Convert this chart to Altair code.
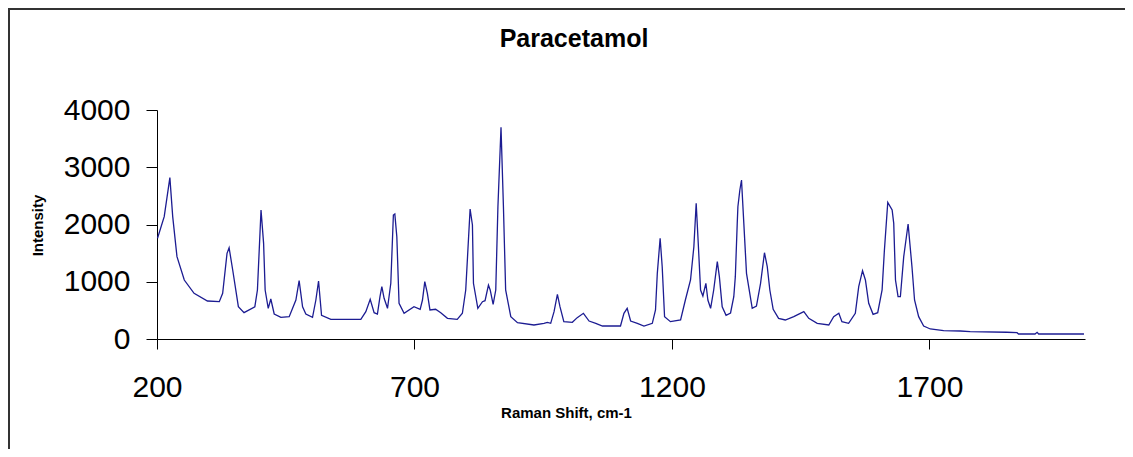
import altair as alt
import pandas as pd

TITLE = "Paracetamol"
X_TITLE = "Raman Shift, cm-1"
Y_TITLE = "Intensity"
X_TICKS = [200, 700, 1200, 1700]
Y_TICKS = [0, 1000, 2000, 3000, 4000]

shift = [201, 214, 225, 230.5, 238.8, 253, 272, 298, 321, 327.5, 336, 340, 347, 358, 369,
         390, 395, 402, 407, 410, 416, 421, 427.6, 440.6, 456.7, 469.7, 476, 482.7, 489, 502,
         508.5, 513.7, 519.5, 537.6, 595.8, 605.5, 614, 621.6, 628, 633, 636.6, 641, 647.6,
         654, 659, 661.8, 665.7, 670, 679.8, 699, 711, 715.5, 720, 725, 730, 741, 751, 764,
         783, 793, 799.5, 803, 808, 812.5, 814.5, 823, 832, 837, 843.6, 847, 852.7, 857.8,
         862, 868, 872.7, 877, 887, 900, 932, 951.5, 958, 964.5, 971, 977.5, 982.5, 990,
         1006.5, 1016, 1028, 1039, 1052, 1065, 1100, 1106.7, 1113, 1119.7, 1132.7, 1145.6,
         1161.8, 1168, 1171.5, 1177, 1181, 1185.6, 1197, 1216.7, 1226, 1236, 1242.5, 1247,
         1251, 1255.5, 1260, 1265.8, 1269.7, 1275, 1281, 1288, 1292, 1297.5, 1305, 1313.7,
         1320, 1323, 1326.7, 1328, 1331.8, 1335, 1339.5, 1344.7, 1355.8, 1364, 1372, 1379.6,
         1385, 1390, 1396.5, 1407, 1420, 1436.5, 1456, 1465.6, 1482, 1504.5, 1514, 1524,
         1530, 1543, 1556, 1562.6, 1570, 1575.6, 1582, 1590.5, 1599.5, 1608, 1612.5, 1619,
         1627.5, 1630.6, 1634, 1639, 1643.5, 1650, 1658.5, 1666, 1671, 1679, 1688.7, 1701.6,
         1727.5, 1760, 1779, 1850, 1870, 1873, 1905, 1909, 1912, 2000]

intensity = [1759, 2137, 2818, 2137, 1438, 1030, 798, 664, 652, 798, 1497, 1595, 1205, 564, 460,
             564, 856, 2253, 1671, 856, 536, 699, 437, 379, 390, 681, 1019, 564, 437, 379,
             681, 1013, 414, 344, 344, 477, 693, 460, 437, 739, 914, 711, 536,
             973, 2166, 2183, 1787, 623, 449, 564, 519, 681, 1001, 798, 507, 519, 460, 361,
             344, 449, 856, 1438, 2271, 1991, 973, 536, 652, 669, 943, 856, 606, 856,
             2311, 3698, 2311, 856, 390, 285, 245, 274, 291, 274, 477, 780, 564, 303,
             291, 373, 449, 314, 274, 227, 227, 449, 536, 314, 274, 227,
             274, 507, 1147, 1759, 1263, 390, 303, 332, 681, 1031, 1612, 2370,
             1671, 856, 751, 973, 681, 536, 856, 1351, 1089, 564, 414, 455,
             739, 1089, 2020, 2311, 2603, 2777, 2020, 1147, 536, 576, 973, 1507,
             1263, 856, 519, 361, 332, 390, 477, 361, 274, 245, 390, 449,
             303, 274, 449, 914, 1193, 1031, 623, 431, 460, 856, 1555, 2387,
             2253, 2020, 1031, 739, 739, 1438, 2009, 1263, 681, 390, 227, 175,
             146, 140, 128, 118, 111, 87, 87, 116, 87, 87]

df = pd.DataFrame({"shift": shift, "intensity": intensity})

FONT = "Liberation Sans"
W, H = 928, 229
PAD_L, PAD_T, PAD_R, PAD_B = 149, 102, 40, 110

line = alt.Chart(df).mark_line(color="#1c1c92", strokeWidth=1.3).encode(
    x=alt.X("shift:Q",
            scale=alt.Scale(domain=[200, 2002], nice=False, zero=False),
            axis=alt.Axis(values=X_TICKS, format="d", title=X_TITLE, grid=False,
                          tickSize=10, tickColor="black", domainColor="black",
                          labelFontSize=30, labelFont=FONT, labelColor="black",
                          labelPadding=23, labelFlush=False,
                          titleFont=FONT, titleFontSize=15, titleFontWeight="bold",
                          titleColor="black", titleX=409, titleY=73,
                          titleBaseline="middle", titleAnchor="middle")),
    y=alt.Y("intensity:Q",
            scale=alt.Scale(domain=[0, 4000], nice=False),
            axis=alt.Axis(values=Y_TICKS, format="d", title=Y_TITLE, grid=False,
                          tickSize=11, tickColor="black", domainColor="black",
                          labelFontSize=30, labelFont=FONT, labelColor="black",
                          labelPadding=16, labelFlush=False,
                          titleFont=FONT, titleFontSize=15, titleFontWeight="bold",
                          titleColor="black", titleX=-120, titleY=115,
                          titleAngle=270, titleBaseline="middle", titleAnchor="middle")),
)

title = alt.Chart(pd.DataFrame({"t": [TITLE]})).mark_text(
    font=FONT, fontSize=25, fontWeight="bold", color="black",
    align="center", baseline="middle"
).encode(text="t:N", x=alt.value(417), y=alt.value(-71))

frame_left = alt.Chart(pd.DataFrame({"a": [0]})).mark_rule(
    color="#333333", strokeWidth=2
).encode(x=alt.value(-148), y=alt.value(-102), y2=alt.value(H + PAD_B))

frame_top = alt.Chart(pd.DataFrame({"a": [0]})).mark_rule(
    color="#333333", strokeWidth=2
).encode(x=alt.value(-148), x2=alt.value(W + PAD_R), y=alt.value(-101))

chart = alt.layer(line, title, frame_left, frame_top).properties(
    width=W, height=H,
    autosize=alt.AutoSizeParams(type="none"),
    padding={"left": PAD_L, "top": PAD_T, "right": PAD_R, "bottom": PAD_B},
).configure_view(stroke=None)

chart.save("out.html", embed_options={"renderer": "svg", "actions": False})
